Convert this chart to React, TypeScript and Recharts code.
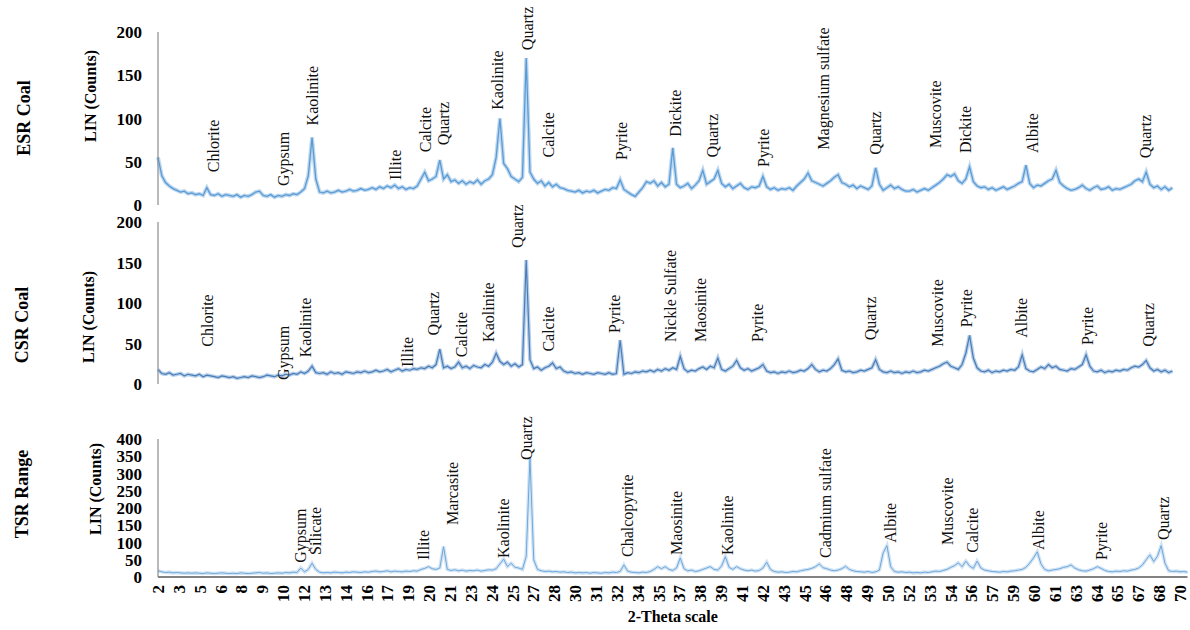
import React from "react";
import { Line, LineChart, ReferenceDot, XAxis, YAxis } from "recharts";

// scan starts at 2 deg 2-theta, 0.25 deg step
const START = 2;
const STEP = 0.25;

const esrCounts = [
  55, 34, 26, 22, 19, 17, 15, 16, 13, 14, 12, 13, 11, 20, 12, 11, 13, 10, 12, 11,
  10, 12, 9, 11, 10, 12, 15, 16, 11, 10, 12, 9, 11, 10, 12, 11, 13, 12, 15, 19,
  34, 78, 30, 15, 14, 16, 14, 15, 17, 15, 16, 18, 16, 17, 19, 17, 18, 20, 18, 21,
  19, 22, 20, 23, 19, 21, 18, 20, 19, 22, 30, 38, 28, 30, 33, 52, 30, 35, 27, 29,
  25, 28, 24, 27, 25, 29, 24, 28, 30, 35, 55, 100, 48, 42, 33, 30, 27, 32, 170, 38,
  30, 25, 28, 22, 26, 21, 24, 20, 19, 17, 16, 15, 17, 14, 16, 15, 17, 14, 16, 18,
  17, 20, 19, 29, 18, 15, 12, 10, 15, 20, 27, 25, 28, 22, 26, 21, 24, 66, 24, 20,
  22, 25, 19, 23, 28, 40, 24, 27, 30, 40, 25, 21, 24, 19, 22, 25, 20, 18, 21, 20,
  22, 33, 21, 18, 20, 17, 19, 18, 20, 17, 22, 26, 30, 37, 28, 26, 24, 22, 25, 28,
  32, 35, 26, 24, 21, 23, 19, 22, 20, 18, 22, 43, 24, 17, 20, 23, 19, 21, 18, 16,
  16, 18, 15, 17, 19, 17, 20, 23, 26, 30, 35, 33, 36, 28, 25, 30, 44, 27, 22, 20,
  21, 18, 20, 17, 19, 21, 18, 20, 22, 25, 27, 46, 25, 20, 23, 22, 25, 28, 30, 40,
  26, 22, 19, 17, 18, 20, 23, 19, 17, 20, 22, 18, 19, 21, 17, 19, 18, 20, 22, 24,
  28, 30, 27, 38, 24, 20, 22, 18, 21, 17, 20,
];

const csrCounts = [
  18, 13, 12, 14, 11, 12, 13, 10, 12, 11, 10, 12, 9, 11, 10, 9, 8, 10, 9, 8,
  9, 7, 8, 9, 8, 10, 9, 8, 9, 11, 10, 9, 11, 10, 12, 11, 13, 12, 15, 13,
  16, 22, 14, 13, 14, 12, 15, 13, 14, 12, 15, 14, 13, 15, 14, 16, 14, 15, 17, 15,
  16, 18, 15, 17, 19, 16, 18, 17, 19, 18, 20, 19, 22, 20, 24, 43, 20, 22, 19, 21,
  27, 20, 22, 19, 23, 21, 20, 24, 22, 27, 38, 28, 24, 27, 22, 25, 21, 24, 153, 30,
  19, 21, 17, 20, 22, 26, 19, 21, 16, 14, 15, 13, 14, 12, 14, 13, 12, 14, 13, 12,
  14, 12, 13, 54, 12, 14, 13, 15, 14, 16, 15, 17, 15, 18, 16, 19, 17, 20, 18, 34,
  19, 15, 17, 16, 19, 21, 18, 22, 20, 32, 18, 16, 19, 22, 29, 20, 17, 19, 16, 18,
  20, 24, 16, 14, 15, 13, 15, 14, 16, 14, 15, 17, 16, 19, 24, 18, 15, 17, 16, 19,
  24, 31, 17, 15, 16, 14, 15, 17, 16, 18, 20, 30, 18, 15, 14, 16, 14, 15, 13, 15,
  14, 16, 14, 15, 17, 16, 18, 20, 22, 25, 27, 22, 20, 18, 24, 38, 60, 32, 20, 16,
  15, 17, 14, 16, 15, 17, 16, 18, 17, 21, 36, 19, 16, 15, 18, 21, 19, 24, 20, 22,
  18, 17, 16, 19, 18, 21, 24, 36, 22, 16, 15, 17, 14, 16, 15, 17, 16, 18, 17, 20,
  22, 21, 24, 29, 20, 16, 18, 15, 17, 14, 16,
];

const tsrCounts = [
  18, 15, 13, 14, 12, 13, 12, 11, 12, 11, 12, 11, 10, 12, 11, 10, 11, 12, 11, 10,
  11, 10, 12, 11, 10, 11, 12, 13, 11, 12, 10, 11, 12, 11, 13, 12, 14, 13, 26, 15,
  22, 40, 22, 14, 12, 13, 12, 14, 13, 12, 14, 13, 15, 14, 13, 15, 14, 16, 17, 15,
  16, 18, 15, 17, 16, 15, 17, 16, 18, 17, 22, 25, 30, 24, 22, 26, 88, 22, 19, 21,
  18, 20, 17, 19, 18, 20, 17, 19, 21, 20, 24, 38, 52, 30, 40, 28, 26, 22, 60, 345,
  50, 22, 18, 16, 17, 15, 16, 14, 15, 13, 14, 12, 13, 12, 13, 11, 13, 12, 11, 13,
  12, 14, 13, 16, 35, 17, 14, 13, 12, 14, 13, 16, 22, 30, 24, 30, 22, 19, 26, 55,
  24, 18, 20, 16, 18, 22, 26, 30, 22, 20, 32, 59, 28, 22, 30, 24, 20, 18, 20, 17,
  19, 26, 43, 22, 16, 14, 15, 13, 14, 16, 15, 18, 20, 22, 25, 30, 38, 27, 24, 20,
  18, 20, 24, 31, 22, 18, 16, 15, 14, 16, 13, 15, 20, 70, 91, 30, 16, 14, 15, 13,
  14, 12, 13, 12, 14, 13, 15, 17, 16, 19, 22, 28, 33, 41, 30, 46, 32, 25, 46, 26,
  20, 18, 16, 15, 14, 16, 15, 17, 18, 20, 22, 28, 40, 55, 73, 38, 22, 18, 20, 22,
  24, 28, 30, 35, 26, 21, 18, 17, 20, 24, 30, 25, 19, 16, 15, 17, 16, 18, 17, 20,
  22, 26, 35, 50, 64, 45, 60, 91, 40, 18, 16, 17, 15, 16, 14,
];

// category labels as printed under the bottom panel
const thetaTickLabels = [
  "2", "3", "5", "6", "8", "9", "10", "12", "13", "14", "16", "17", "19",
  "20", "21", "23", "24", "25", "27", "28", "30", "31", "32", "34", "35", "37",
  "38", "39", "41", "42", "43", "45", "46", "48", "49", "50", "52", "53", "54",
  "56", "57", "59", "60", "61", "63", "64", "65", "67", "68", "70",
];

const countTicks200 = [0, 50, 100, 150, 200];
const countTicks400 = [0, 50, 100, 150, 200, 250, 300, 350, 400];

// [mineral, 2-theta, count where the label starts]
const esrPeaks: [string, number, number][] = [
  ["Chlorite", 5.66, 38],
  ["Gypsum", 10.32, 22],
  ["Kaolinite", 12.25, 92],
  ["Illite", 17.77, 29],
  ["Calcite", 19.76, 61],
  ["Quartz", 20.96, 69],
  ["Kaolinite", 24.56, 110],
  ["Quartz", 26.55, 179],
  ["Calcite", 27.95, 55],
  ["Pyrite", 32.8, 52],
  ["Dickite", 36.4, 79],
  ["Quartz", 38.86, 55],
  ["Pyrite", 42.25, 44],
  ["Magnesium  sulfate", 46.25, 64],
  ["Quartz", 49.7, 58],
  ["Muscovite", 53.7, 66],
  ["Dickite", 55.7, 60],
  ["Albite", 60.15, 60],
  ["Quartz", 67.67, 54],
];

const csrPeaks: [string, number, number][] = [
  ["Chlorite", 5.26, 46],
  ["Gypsum", 10.32, 5],
  ["Kaolinite", 11.78, 33],
  ["Illite", 18.57, 21],
  ["Quartz", 20.3, 60],
  ["Calcite", 22.16, 33],
  ["Kaolinite", 23.96, 52],
  ["Quartz", 25.89, 168],
  ["Calcite", 27.95, 40],
  ["Pyrite", 32.4, 63],
  ["Nickle Sulfate", 36.07, 52],
  ["Maosinite", 38.06, 52],
  ["Pyrite", 41.85, 52],
  ["Quartz", 49.37, 54],
  ["Muscovite", 53.83, 46],
  ["Pyrite", 55.76, 70],
  ["Albite", 59.48, 57],
  ["Pyrite", 63.81, 48],
  ["Quartz", 67.87, 46],
];

const tsrPeaks: [string, number, number][] = [
  ["Gypsum", 11.45, 41],
  ["Silicate", 12.45, 64],
  ["Illite", 19.63, 49],
  ["Marcasite", 21.56, 151],
  ["Kaolinite", 24.95, 55],
  ["Quartz", 26.48, 339],
  ["Chalcopyrite", 33.2, 58],
  ["Maosinite", 36.46, 64],
  ["Kaolinite", 39.86, 64],
  ["Cadmium sulfate", 46.38, 55],
  ["Albite", 50.7, 99],
  ["Muscovite", 54.5, 93],
  ["Calcite", 56.22, 70],
  ["Albite", 60.55, 78],
  ["Pyrite", 64.8, 49],
  ["Quartz", 68.87, 107],
];

const SERIF = "'Liberation Serif', 'Times New Roman', serif";
const TICK_STEP = 68 / (thetaTickLabels.length - 1);
const thetaTicks = thetaTickLabels.map((_, i) => START + i * TICK_STEP);

const toRows = (counts: number[]) =>
  counts.map((c, i) => ({ theta: START + i * STEP, count: c }));

const ThetaTick = (props: any) => {
  const { x, y, payload } = props;
  const i = Math.round((payload.value - START) / TICK_STEP);
  return (
    <text
      transform={`translate(${x},${y}) rotate(-90)`}
      textAnchor="end"
      dy="0.35em"
      fontFamily={SERIF}
      fontWeight="bold"
      fontSize={17}
      fill="#000"
    >
      {thetaTickLabels[i]}
    </text>
  );
};

const peakLabel = (name: string) => (p: any) => (
  <text
    transform={`translate(${p.cx},${p.cy}) rotate(-90)`}
    textAnchor="start"
    dy="0.35em"
    fontFamily={SERIF}
    fontSize={16}
    fill="#111"
  >
    {name}
  </text>
);

interface PanelProps {
  top: number;
  height: number;
  marginTop: number;
  marginBottom: number;
  counts: number[];
  yMax: number;
  yTicks: number[];
  peaks: [string, number, number][];
  stroke: string;
  halo: string;
  strokeWidth: number;
  showX?: boolean;
}

const Panel: React.FC<PanelProps> = ({
  top,
  height,
  marginTop,
  marginBottom,
  counts,
  yMax,
  yTicks,
  peaks,
  stroke,
  halo,
  strokeWidth,
  showX,
}) => (
  <div style={{ position: "absolute", left: 0, top }}>
    <LineChart
      width={1190}
      height={height}
      data={toRows(counts)}
      margin={{ top: marginTop, right: 2.5, bottom: marginBottom, left: 118 }}
    >
      <XAxis
        dataKey="theta"
        type="number"
        domain={[2, 70.5]}
        ticks={thetaTicks}
        interval={0}
        hide={!showX}
        height={53}
        tick={<ThetaTick />}
        tickLine={false}
        axisLine={{ stroke: "#595959", strokeWidth: 1.5 }}
        label={{
          value: "2-Theta scale",
          position: "insideBottom",
          offset: 8,
          style: {
            fontFamily: SERIF,
            fontWeight: "bold",
            fontSize: 16,
            fill: "#000",
          },
        }}
      />
      <YAxis
        type="number"
        domain={[0, yMax]}
        ticks={yTicks}
        interval={0}
        width={40}
        tickLine={false}
        tickSize={0}
        tickMargin={16}
        axisLine={{ stroke: "#8c8c8c", strokeWidth: 1.2 }}
        tick={{
          fontFamily: SERIF,
          fontWeight: "bold",
          fontSize: 17,
          fill: "#000",
        }}
      />
      <Line
        dataKey="count"
        type="linear"
        stroke={halo}
        strokeWidth={strokeWidth + 2.6}
        dot={false}
        activeDot={false}
        isAnimationActive={false}
      />
      <Line
        dataKey="count"
        type="linear"
        stroke={stroke}
        strokeWidth={strokeWidth}
        dot={false}
        activeDot={false}
        isAnimationActive={false}
      />
      {peaks.map(([name, theta, at], i) => (
        <ReferenceDot
          key={`${name}-${i}`}
          x={theta}
          y={at}
          r={0}
          ifOverflow="visible"
          shape={peakLabel(name)}
        />
      ))}
    </LineChart>
  </div>
);

const sideLabel = (text: string, x: number, y: number, size: number) => (
  <text
    transform={`translate(${x},${y}) rotate(-90)`}
    textAnchor="middle"
    dy="0.35em"
    fontFamily={SERIF}
    fontWeight="bold"
    fontSize={size}
    fill="#000"
  >
    {text}
  </text>
);

export default function App() {
  return (
    <div
      style={{
        position: "absolute",
        left: 0,
        top: 0,
        width: 1190,
        height: 630,
        background: "#fff",
        overflow: "hidden",
      }}
    >
      <Panel
        top={0}
        height={215}
        marginTop={32}
        marginBottom={10}
        counts={esrCounts}
        yMax={200}
        yTicks={countTicks200}
        peaks={esrPeaks}
        stroke="#5B9BD5"
        halo="#BCD7EF"
        strokeWidth={1.3}
      />
      <Panel
        top={205}
        height={190}
        marginTop={17}
        marginBottom={11}
        counts={csrCounts}
        yMax={200}
        yTicks={countTicks200}
        peaks={csrPeaks}
        stroke="#4A7DB5"
        halo="#B7CFEA"
        strokeWidth={1.2}
      />
      <Panel
        top={400}
        height={230}
        marginTop={39}
        marginBottom={0}
        counts={tsrCounts}
        yMax={400}
        yTicks={countTicks400}
        peaks={tsrPeaks}
        stroke="#6FA8DC"
        halo="#D2E4F4"
        strokeWidth={1}
        showX
      />
      <svg
        width={130}
        height={630}
        style={{ position: "absolute", left: 0, top: 0, pointerEvents: "none" }}
      >
        {sideLabel("ESR Coal", 24, 118, 18)}
        {sideLabel("LIN (Counts)", 90, 96, 16)}
        {sideLabel("CSR Coal", 22, 325, 18)}
        {sideLabel("LIN (Counts)", 88, 317, 16)}
        {sideLabel("TSR Range", 22, 494, 18)}
        {sideLabel("LIN (Counts)", 95, 489, 16)}
      </svg>
    </div>
  );
}
